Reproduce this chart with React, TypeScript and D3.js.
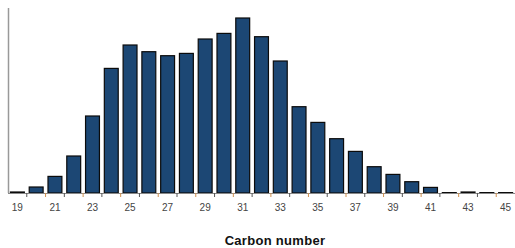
import { useRef, useEffect } from 'react'
import * as d3 from 'd3'

const carbons = [19, 20, 21, 22, 23, 24, 25, 26, 27, 28, 29, 30, 31, 32, 33, 34, 35, 36, 37, 38, 39, 40, 41, 42, 43, 44, 45]
const amounts = [1, 6, 16.6, 37, 77, 124.6, 148, 141.3, 137.3, 139.6, 154, 159.6, 175, 156.3, 132, 86.3, 70.6, 54.3, 41.6, 26.3, 18.6, 11.3, 5.6, 0.4, 1, 0.4, 0.4]
const tickLabels = [19, 21, 23, 25, 27, 29, 31, 33, 35, 37, 39, 41, 43, 45]
const axisTitle = 'Carbon number'

export default function App() {
  const ref = useRef<SVGSVGElement>(null)

  const width = 515
  const height = 248
  const margin = { top: 8, right: 0, bottom: 55, left: 8 }
  const baseline = height - margin.bottom

  useEffect(() => {
    const svg = d3.select(ref.current)
    svg.selectAll('*').remove()

    const data = carbons.map((c, i) => ({ c, v: amounts[i] }))

    const x = d3
      .scaleBand<number>()
      .domain(carbons)
      .range([margin.left, width - margin.right])
      .paddingInner(0.26)
      .paddingOuter(0.13)

    const y = d3.scaleLinear().domain([0, 185]).range([baseline, margin.top])

    // bars
    svg
      .append('g')
      .selectAll('rect')
      .data(data)
      .join('rect')
      .attr('x', (d) => x(d.c)!)
      .attr('y', (d) => y(d.v))
      .attr('width', x.bandwidth())
      .attr('height', (d) => baseline - y(d.v))
      .style('fill', '#1c4774')
      .style('stroke', '#0b0b0b')
      .style('stroke-width', 1.2)

    // y axis line
    svg
      .append('line')
      .attr('x1', margin.left + 0.5)
      .attr('x2', margin.left + 0.5)
      .attr('y1', margin.top)
      .attr('y2', baseline)
      .style('stroke', '#999')
      .style('stroke-width', 1.5)

    // x axis
    const step = x.step()
    const boundaries = carbons.map((c) => x(c)! - (step * x.paddingInner()) / 2)
    const gx = svg.append('g')
    gx.append('line')
      .attr('x1', margin.left)
      .attr('x2', width)
      .attr('y1', baseline + 0.5)
      .attr('y2', baseline + 0.5)
      .style('stroke', '#888')
      .style('stroke-width', 1.2)
    gx.selectAll('.tk')
      .data(boundaries.slice(1))
      .join('line')
      .attr('class', 'tk')
      .attr('x1', (d) => d)
      .attr('x2', (d) => d)
      .attr('y1', baseline)
      .attr('y2', baseline + 4)
      .style('stroke', (d, i) => (i % 2 === 0 ? '#555' : '#d0904f'))
      .style('stroke-width', 1)

    gx.selectAll('text')
      .data(tickLabels)
      .join('text')
      .attr('x', (d) => x(d)! + x.bandwidth() / 2)
      .attr('y', baseline + 18)
      .attr('text-anchor', 'middle')
      .attr('font-family', 'Arial, Liberation Sans, sans-serif')
      .attr('font-size', 10)
      .attr('fill', '#444')
      .text((d) => d)

    svg
      .append('text')
      .attr('x', 275)
      .attr('y', 245)
      .attr('text-anchor', 'middle')
      .attr('font-family', 'Arial, Liberation Sans, sans-serif')
      .attr('font-weight', 'bold')
      .attr('font-size', 13)
      .attr('letter-spacing', 0.3)
      .attr('fill', '#111')
      .text(axisTitle)
  }, [])

  return (
    <div>
      <svg
        ref={ref}
        width={width}
        height={height}
        style={{ position: 'absolute', left: 0, top: 0, background: '#fff' }}
      ></svg>
    </div>
  )
}
